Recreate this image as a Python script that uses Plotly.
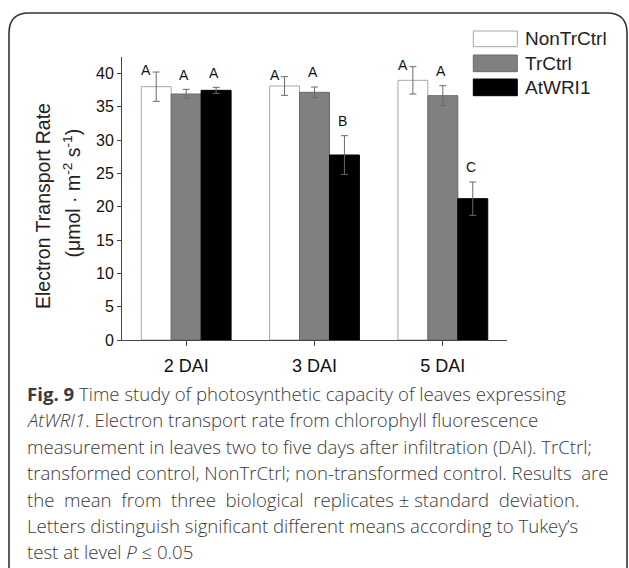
import plotly.graph_objects as go

# ---------------- data ----------------
categories = ["2 DAI", "3 DAI", "5 DAI"]
series_names = ["NonTrCtrl", "TrCtrl", "AtWRI1"]
nontr_mean = [38.0, 38.1, 38.95]
nontr_sd = [2.2, 1.4, 2.05]
tr_mean = [36.9, 37.15, 36.65]
tr_sd = [0.7, 0.8, 1.5]
wri_mean = [37.45, 27.75, 21.2]
wri_sd = [0.45, 2.9, 2.5]
nontr_letters = ["A", "A", "A"]
tr_letters = ["A", "A", "A"]
wri_letters = ["A", "B", "C"]

y_title = "Electron Transport Rate"
y_unit = "(\u03bcmol \u00b7 m<sup>-2</sup> s<sup>-1</sup>)"
caption_lines = [
    "<b>Fig. 9</b> Time study of photosynthetic capacity of leaves expressing",
    "<i>AtWRI1</i>. Electron transport rate from chlorophyll fluorescence",
    "measurement in leaves two to five days after infiltration (DAI). TrCtrl;",
    "transformed control, NonTrCtrl; non-transformed control. Results  are",
    "the  mean  from  three  biological  replicates \u00b1 standard  deviation.",
    "Letters distinguish significant different means according to Tukey\u2019s",
    "test at level <i>P</i> \u2264 0.05",
]

# ---------------- styles ----------------
W, H = 629, 568
ML, MR, MT, MB = 122, 122, 57, 228
PW, PH = W - ML - MR, H - MT - MB
AX_FONT = "Liberation Sans, Arial, sans-serif"
CAP_FONT = "Open Sans, Lato, sans-serif"
fills = ["#ffffff", "#808080", "#000000"]
lines = ["#a8a8a8", "#6a6a6a", "#000000"]
BARGAP = 0.3


def px_x(px):
    return (px - ML) / PW


def px_y(py):
    return (H - MB - py) / PH


means = [nontr_mean, tr_mean, wri_mean]
sds = [nontr_sd, tr_sd, wri_sd]
letters = [nontr_letters, tr_letters, wri_letters]

fig = go.Figure()
for i, name in enumerate(series_names):
    fig.add_trace(go.Bar(
        name=name, x=categories, y=means[i],
        marker=dict(color=fills[i], line=dict(color=lines[i], width=1)),
        error_y=dict(type="data", array=sds[i], color="#6a6a6a",
                     thickness=1, width=3.5),
        showlegend=False,
    ))

annotations = []
bw = (1 - BARGAP) / len(series_names)
for i in range(len(series_names)):
    for j in range(len(categories)):
        top = means[i][j] + sds[i][j]
        if i == 0:
            y, xs = top + 0.3, -10
        else:
            y, xs = top + 2.2, -2
        annotations.append(dict(
            x=j + (i - 1) * bw, y=y, xref="x", yref="y", text=letters[i][j],
            showarrow=False, xshift=xs, xanchor="center", yanchor="middle",
            font=dict(family=AX_FONT, size=14, color="#111")))

# y title (two rotated lines)
annotations.append(dict(x=px_x(43), y=px_y(206), xref="paper", yref="paper",
                        text=y_title, textangle=-90, showarrow=False,
                        xanchor="center", yanchor="middle",
                        font=dict(family=AX_FONT, size=19.5, color="#222")))
annotations.append(dict(x=px_x(71.5), y=px_y(193), xref="paper", yref="paper",
                        text=y_unit, textangle=-90, showarrow=False,
                        xanchor="center", yanchor="middle",
                        font=dict(family=AX_FONT, size=19.5, color="#222")))

# custom legend
shapes = []
leg_rows = [(31, 46.7), (55, 71.7), (79, 95.7)]
for i, name in enumerate(series_names):
    y0, y1 = leg_rows[i]
    shapes.append(dict(type="rect", xref="paper", yref="paper",
                       x0=px_x(473.3), x1=px_x(517.3), y0=px_y(y1), y1=px_y(y0),
                       fillcolor=fills[i], line=dict(color=lines[i], width=1)))
    annotations.append(dict(x=px_x(523), y=px_y((y0 + y1) / 2), xref="paper",
                            yref="paper", text=name, showarrow=False,
                            xanchor="left", yanchor="middle",
                            font=dict(family=AX_FONT, size=19, color="#222")))

# caption
cap_y = [393.3, 419.5, 446, 472.5, 499, 525.5, 551.7]
for k, line in enumerate(caption_lines):
    annotations.append(dict(x=px_x(25), y=px_y(cap_y[k]), xref="paper",
                            yref="paper", text=line, showarrow=False,
                            xanchor="left", yanchor="middle",
                            font=dict(family=CAP_FONT, size=18.6, color="#3a3a3a",
                                      weight=300)))

# rounded frame
r = 20
fx0, fy0, fx1, fy1 = 9, 13, 627, 620
path = (f"M {px_x(fx0)},{px_y(fy1)} L {px_x(fx0)},{px_y(fy0 + r)} "
        f"Q {px_x(fx0)},{px_y(fy0)} {px_x(fx0 + r)},{px_y(fy0)} "
        f"L {px_x(fx1 - r)},{px_y(fy0)} "
        f"Q {px_x(fx1)},{px_y(fy0)} {px_x(fx1)},{px_y(fy0 + r)} "
        f"L {px_x(fx1)},{px_y(fy1)}")
shapes.append(dict(type="path", xref="paper", yref="paper", path=path,
                   line=dict(color="#333", width=1.6)))

fig.update_layout(
    width=W, height=H,
    margin=dict(l=ML, r=MR, t=MT, b=MB, autoexpand=False),
    paper_bgcolor="white", plot_bgcolor="white",
    barmode="group", bargap=BARGAP, bargroupgap=0,
    annotations=annotations, shapes=shapes,
    xaxis=dict(range=[-0.5, 2.5], showline=True, linecolor="#444", linewidth=1,
               ticks="outside", ticklen=5, tickcolor="#444",
               ticklabelstandoff=4,
               tickfont=dict(family=AX_FONT, size=18, color="#111"),
               showgrid=False, zeroline=False),
    yaxis=dict(range=[0, 42.45], tickvals=[0, 5, 10, 15, 20, 25, 30, 35, 40],
               showline=True, linecolor="#444", linewidth=1,
               ticks="outside", ticklen=4, tickcolor="#444",
               tickfont=dict(family=AX_FONT, size=16, color="#111"),
               showgrid=False, zeroline=False),
)

fig.write_html("out.html")
